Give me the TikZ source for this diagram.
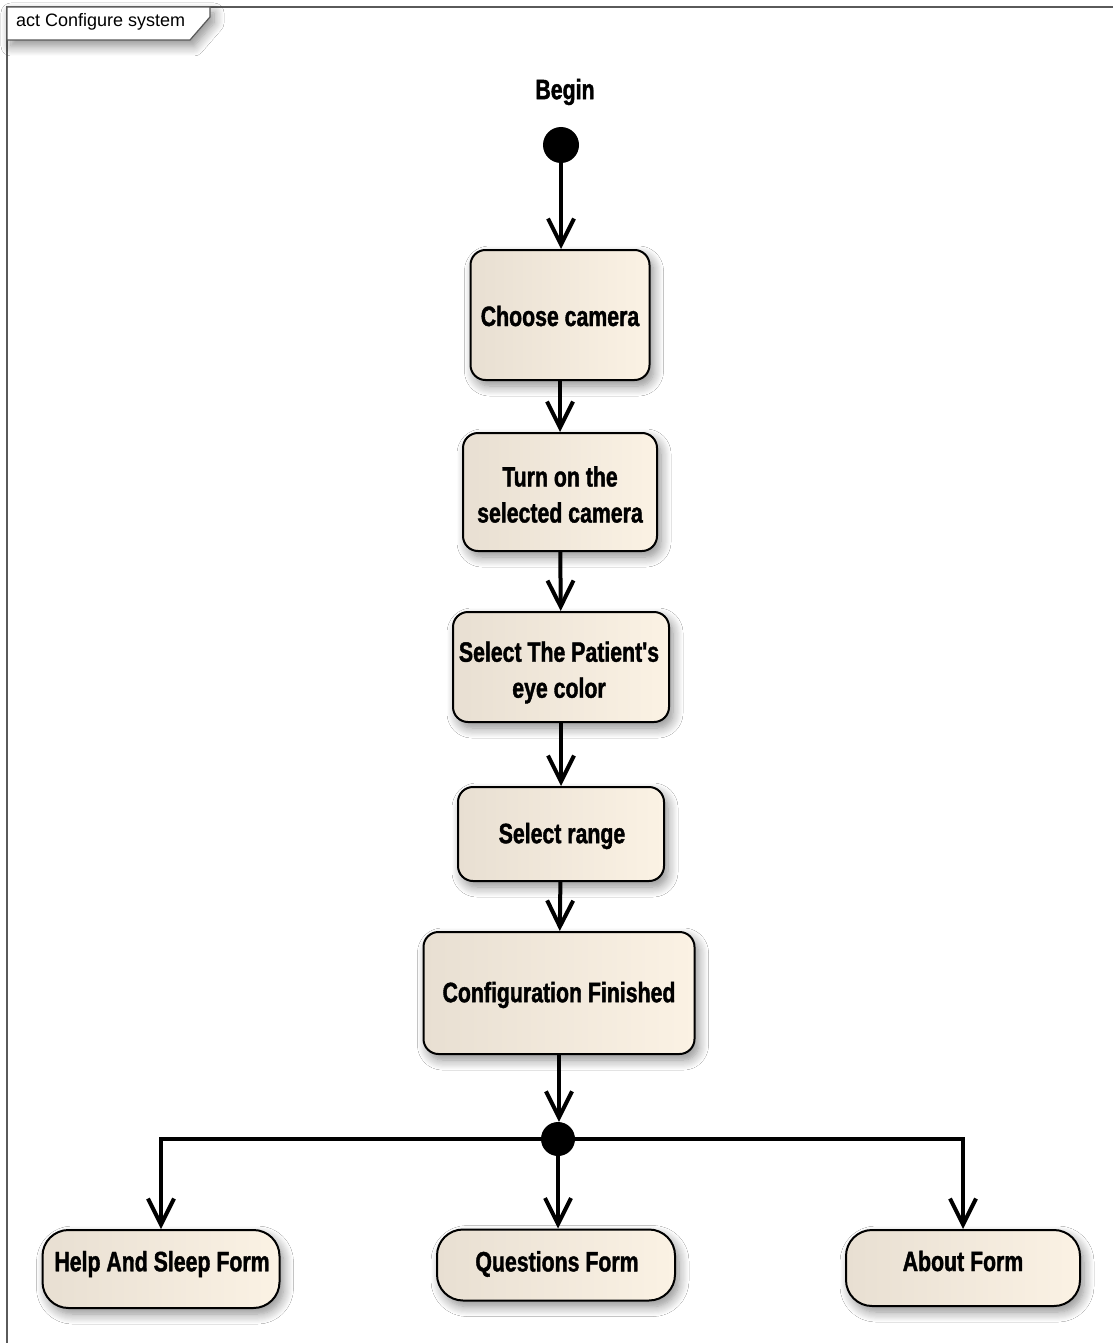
\documentclass[tikz,border=0pt]{standalone}
\usepackage{fontspec}
\setmainfont{Liberation Sans}
\newfontfamily\nodefont[FakeStretch=0.76,FakeBold=1.4]{Liberation Sans Bold}
\usetikzlibrary{arrows.meta,shadows.blur}
\definecolor{fillL}{RGB}{232,223,210}
\definecolor{fillR}{RGB}{251,242,228}
\definecolor{framecol}{RGB}{90,90,90}
\tikzset{
  shad/.style={blur shadow={shadow xshift=4pt, shadow yshift=-6pt, shadow blur steps=10, shadow blur radius=10pt, shadow opacity=45}},
  actbox/.style={draw=black, line width=2pt, rounded corners=15pt, left color=fillL, right color=fillR,
    shad, inner sep=0pt},
  formbox/.style={actbox, rounded corners=26pt},
  dot/.style={circle, fill=black, draw=none, inner sep=0pt},
  flow/.style={line width=4pt, -{Straight Barb[length=26pt,width=26pt]}},
  lbl/.style={font=\nodefont\fontsize{28}{36}\selectfont, align=center, inner sep=0pt},
}
\begin{document}
\begin{tikzpicture}[x=1pt,y=-1pt]
\useasboundingbox (0,0) rectangle (1113,1343);
\fill[white] (0,0) rectangle (1113,1343);
% frame
\draw[framecol, line width=1.5pt] (1113,7) -- (7,7) -- (7,1343);
\draw[framecol, line width=1.2pt, fill=white, shad] (7,7) -- (210,7) -- (210,17) -- (190,40) -- (7,40) -- cycle;
\node[anchor=west, inner sep=0pt, font=\fontsize{18}{22}\selectfont] (title) at (16,22) {act Configure system};
% nodes
\node[lbl] (beginlbl) at (565,92) {Begin};
\node[dot, minimum size=36pt] (start) at (561,145) {};
\node[actbox, minimum width=179pt, minimum height=130pt] (choose) at (560,315) {};
\node[actbox, minimum width=194pt, minimum height=118pt] (turn) at (560,492) {};
\node[actbox, minimum width=216pt, minimum height=110pt] (eye) at (561,667) {};
\node[actbox, minimum width=206pt, minimum height=94pt] (range) at (561,834) {};
\node[actbox, minimum width=271pt, minimum height=122pt] (cfg) at (559,993) {};
\node[dot, minimum size=34pt] (fork) at (558,1139) {};
\node[formbox, minimum width=237pt, minimum height=78pt] (help) at (161,1269) {};
\node[formbox, minimum width=238pt, minimum height=71pt] (quest) at (556,1265) {};
\node[formbox, minimum width=234pt, minimum height=76pt] (about) at (963,1268) {};
% texts
\node[lbl] (chooseT) at (560,316) {Choose camera};
\node[lbl] (turnT) at (560,494.5) {Turn on the\\selected camera};
\node[lbl] (eyeT) at (559,672.5) {Select The Patient's\\eye color};
\node[lbl] (rangeT) at (562,836) {Select range};
\node[lbl] (cfgT) at (559,995) {Configuration Finished};
\node[lbl] (helpT) at (162,1264) {Help And Sleep Form};
\node[lbl] (questT) at (557,1264) {Questions Form};
\node[lbl] (aboutT) at (963,1261) {About Form};
% connectors
\draw[flow] (start) -- (start |- choose.north);
\draw[flow] (choose) -- (turn);
\draw[flow] (turn) -- (eye);
\draw[flow] (eye) -- (range);
\draw[flow] (range) -- (cfg);
\draw[flow] (cfg.south) -- (cfg.south |- fork.north);
\draw[flow] (fork) -| (help.north);
\draw[flow] (fork) -| (about.north);
\draw[flow] (fork) -- (fork |- quest.north);
\end{tikzpicture}
\end{document}
